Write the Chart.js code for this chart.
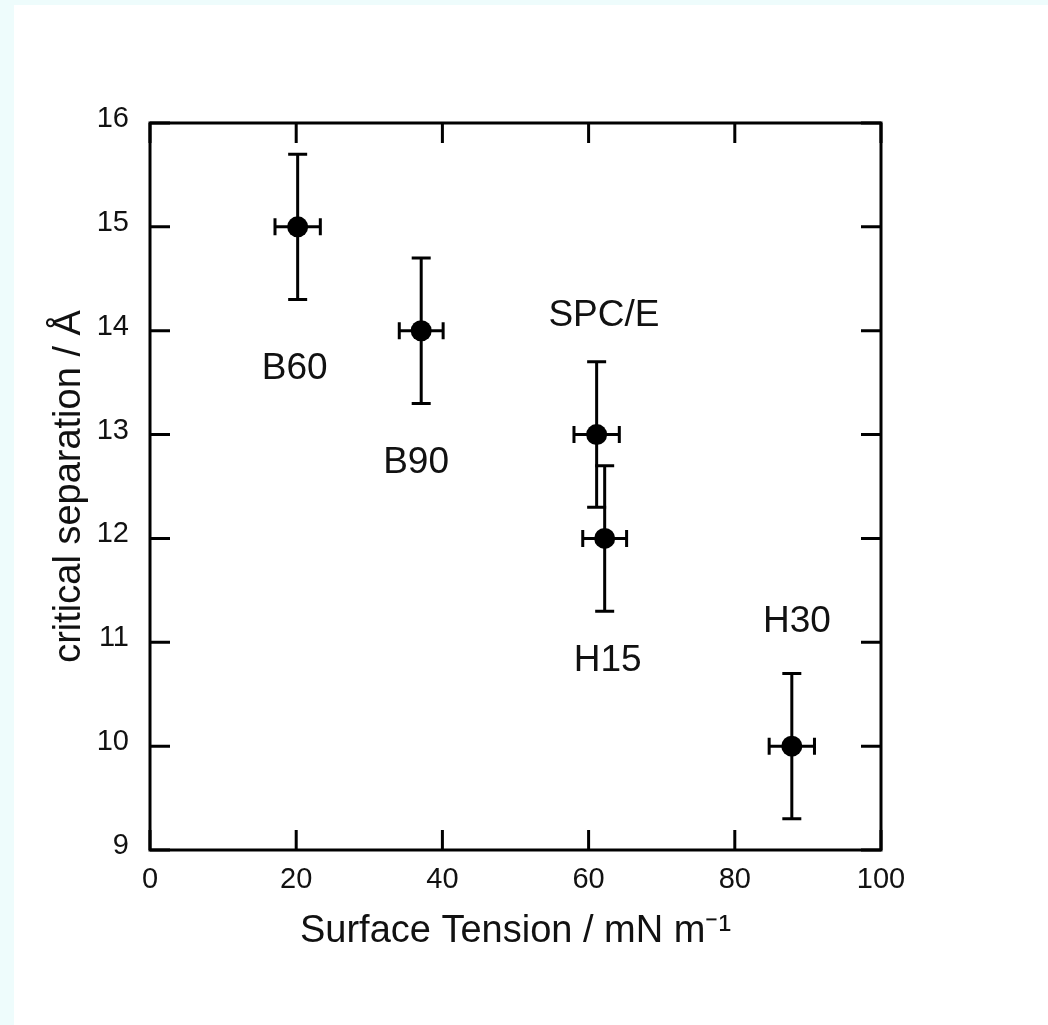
<!DOCTYPE html>
<html>
<head>
<meta charset="utf-8">
<script src="https://cdn.jsdelivr.net/npm/chart.js@4/dist/chart.umd.min.js"></script>
<style>
  html, body { margin: 0; padding: 0; background: #eefcfc; }
  #panel { position: absolute; left: 14px; top: 5px; width: 1034px; height: 1020px; background: #ffffff; }
  canvas { display: block; }
</style>
</head>
<body>
<div id="panel"><canvas id="c" width="1034" height="1020"></canvas></div>
<script>
// ---- data ----
const models = ['B60', 'B90', 'SPC/E', 'H15', 'H30'];
const surfaceTension = [20.2, 37.1, 61.1, 62.2, 87.8];
const criticalSeparation = [15, 14, 13, 12, 10];
const tensionError = [3.1, 3.0, 3.1, 3.0, 3.1];
const separationError = [0.7, 0.7, 0.7, 0.7, 0.7];
// label anchor positions (data coordinates)
const labelX = [19.8, 36.4, 62.1, 62.6, 88.5];
const labelY = [13.63, 12.73, 14.14, 10.82, 11.2];
const xTicks = [0, 20, 40, 60, 80, 100];
const yTicks = [9, 10, 11, 12, 13, 14, 15, 16];

const FONT = "'Liberation Sans', Arial, Helvetica, sans-serif";
const INK = '#111111';

const errorBars = {
  id: 'errorBars',
  beforeDatasetsDraw(chart) {
    const ctx = chart.ctx, xs = chart.scales.x, ys = chart.scales.y;
    ctx.save();
    ctx.strokeStyle = '#000000';
    ctx.lineWidth = 3;
    for (let i = 0; i < surfaceTension.length; i++) {
      const x = xs.getPixelForValue(surfaceTension[i]);
      const y = ys.getPixelForValue(criticalSeparation[i]);
      const y1 = ys.getPixelForValue(criticalSeparation[i] + separationError[i]);
      const y2 = ys.getPixelForValue(criticalSeparation[i] - separationError[i]);
      const x1 = xs.getPixelForValue(surfaceTension[i] - tensionError[i]);
      const x2 = xs.getPixelForValue(surfaceTension[i] + tensionError[i]);
      ctx.beginPath();
      ctx.moveTo(x, y1); ctx.lineTo(x, y2);
      ctx.moveTo(x - 9.5, y1); ctx.lineTo(x + 9.5, y1);
      ctx.moveTo(x - 9.5, y2); ctx.lineTo(x + 9.5, y2);
      ctx.moveTo(x1, y); ctx.lineTo(x2, y);
      ctx.moveTo(x1, y - 8.5); ctx.lineTo(x1, y + 8.5);
      ctx.moveTo(x2, y - 8.5); ctx.lineTo(x2, y + 8.5);
      ctx.stroke();
    }
    ctx.restore();
  }
};

const frame = {
  id: 'frame',
  afterDraw(chart) {
    const ctx = chart.ctx, a = chart.chartArea, xs = chart.scales.x, ys = chart.scales.y;
    const L = 20;
    ctx.save();
    ctx.strokeStyle = '#000000';
    ctx.lineWidth = 3;
    ctx.strokeRect(a.left, a.top, a.right - a.left, a.bottom - a.top);
    ctx.beginPath();
    xs.ticks.forEach(t => {
      const x = xs.getPixelForValue(t.value);
      ctx.moveTo(x, a.bottom); ctx.lineTo(x, a.bottom - L);
      ctx.moveTo(x, a.top); ctx.lineTo(x, a.top + L);
    });
    ys.ticks.forEach(t => {
      const y = ys.getPixelForValue(t.value);
      ctx.moveTo(a.left, y); ctx.lineTo(a.left + L, y);
      ctx.moveTo(a.right, y); ctx.lineTo(a.right - L, y);
    });
    ctx.stroke();
    // point labels
    ctx.fillStyle = INK;
    ctx.font = '37px ' + FONT;
    ctx.textAlign = 'center';
    ctx.textBaseline = 'middle';
    for (let i = 0; i < models.length; i++) {
      ctx.fillText(models[i], xs.getPixelForValue(labelX[i]), ys.getPixelForValue(labelY[i]));
    }
    ctx.restore();
  }
};

new Chart(document.getElementById('c'), {
  type: 'scatter',
  data: {
    datasets: [{
      data: surfaceTension.map((v, i) => ({ x: v, y: criticalSeparation[i] })),
      backgroundColor: '#000000',
      borderColor: '#000000',
      pointRadius: 10.5,
      pointHoverRadius: 10.5,
      borderWidth: 0
    }]
  },
  options: {
    responsive: false,
    animation: false,
    events: [],
    layout: { padding: { left: 0, top: 118, right: 167, bottom: 0 } },
    plugins: { legend: { display: false }, tooltip: { enabled: false } },
    scales: {
      x: {
        type: 'linear', min: 0, max: 100,
        afterBuildTicks: s => { s.ticks = xTicks.map(v => ({ value: v })); },
        afterFit: s => { s.height = 175; },
        grid: { display: false },
        border: { display: false },
        ticks: { font: { family: FONT, size: 29 }, color: INK, padding: 5, maxRotation: 0 },
        title: {
          display: true, text: 'Surface Tension / mN m\u207B\u00B9',
          font: { family: FONT, size: 38 }, color: INK,
          padding: { top: 0, bottom: 71 }
        }
      },
      y: {
        type: 'linear', min: 9, max: 16,
        afterBuildTicks: s => { s.ticks = yTicks.map(v => ({ value: v })); },
        afterFit: s => { s.width = 136; },
        grid: { display: false },
        border: { display: false },
        ticks: { font: { family: FONT, size: 29 }, color: INK, padding: 13, labelOffset: -4 },
        title: {
          display: true, text: 'critical separation / \u00C5',
          font: { family: FONT, size: 38 }, color: INK,
          padding: { top: 33, bottom: 0 }
        }
      }
    }
  },
  plugins: [errorBars, frame]
});
</script>
</body>
</html>
